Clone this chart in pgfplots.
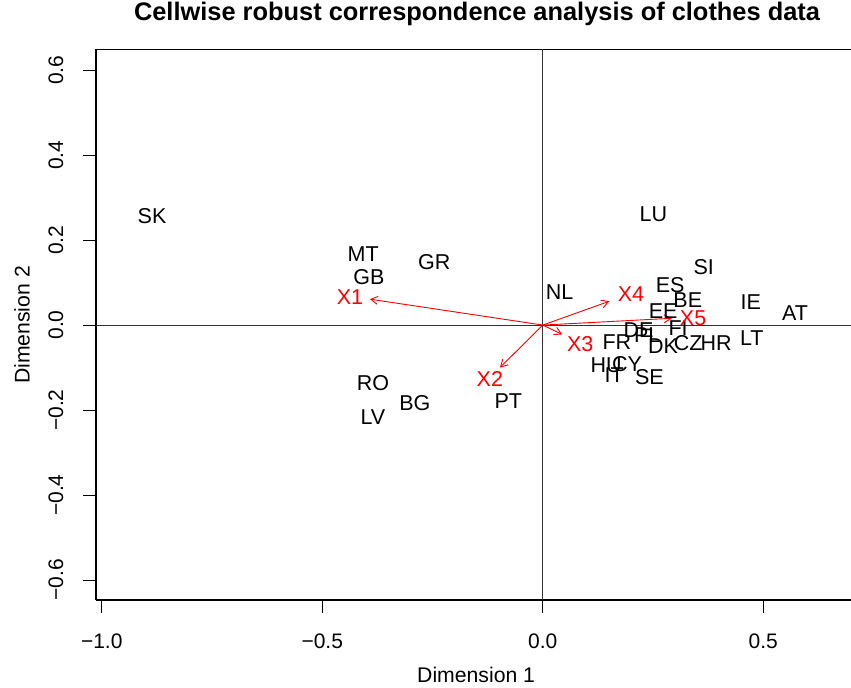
\documentclass[border=0pt]{standalone}
\usepackage{fontspec}
\setmainfont{Liberation Sans}
\usepackage{pgfplots}
\usepackage{pgfplotstable}
\pgfplotsset{compat=1.18}
\usetikzlibrary{arrows.meta,calc}

\pgfplotstableread{
x y lab
-0.886 0.256 SK
-0.407 0.167 MT
-0.394 0.112 GB
-0.246 0.148 GR
0.038 0.077 NL
0.251 0.262 LU
0.365 0.136 SI
0.289 0.094 ES
0.329 0.059 BE
0.472 0.055 IE
0.572 0.028 AT
0.273 0.033 EE
0.307 -0.006 FI
0.217 -0.012 DE
0.237 -0.024 PL
0.273 -0.049 DK
0.330 -0.043 CZ
0.393 -0.042 HR
0.474 -0.031 LT
0.168 -0.039 FR
0.144 -0.094 HU
0.191 -0.092 CY
0.162 -0.118 IT
0.242 -0.122 SE
-0.078 -0.180 PT
-0.385 -0.136 RO
-0.290 -0.184 BG
-0.385 -0.216 LV
}\rows

\pgfplotstableread{
x y lab
-0.437 0.067 X1
-0.120 -0.127 X2
0.085 -0.045 X3
0.200 0.073 X4
0.341 0.016 X5
}\vlabels

\begin{document}
\begin{tikzpicture}
\begin{axis}[
  scale only axis, width=755pt, height=550.7pt,
  xmin=-1.013, xmax=0.699, ymin=-0.647, ymax=0.649,
  axis x line*=bottom, axis y line*=left,
  axis line style={line width=1.3pt, black},
  tick align=outside, major tick length=12.7pt,
  tick style={line width=1pt, black},
  xtick={-1,-0.5,0,0.5}, xticklabels={−1.0,−0.5,0.0,0.5},
  ytick={-0.6,-0.4,-0.2,0,0.2,0.4,0.6},
  yticklabels={−0.6,−0.4,−0.2,0.0,0.2,0.4,0.6},
  ticklabel style={font=\fontsize{21}{25}\selectfont},
  yticklabel style={rotate=90, anchor=south},
  xticklabel style={anchor=north},
  xticklabel shift=18pt, yticklabel shift=16.5pt,
  clip=false,
]
\draw[line width=1.3pt, black] (rel axis cs:0,1) -- (rel axis cs:1,1);
\addplot[black!80, line width=1.1pt] coordinates {(0,-0.647) (0,0.649)};
\addplot[black!80, line width=1.1pt] coordinates {(-1.013,0) (0.699,0)};

\addplot[red, line width=0.9pt, -{Straight Barb[length=7pt,width=8pt]}] coordinates {(0,0) (-0.392,0.061)};
\addplot[red, line width=0.9pt, -{Straight Barb[length=7pt,width=8pt]}] coordinates {(0,0) (-0.097,-0.100)};
\addplot[red, line width=0.9pt, -{Straight Barb[length=7pt,width=8pt]}] coordinates {(0,0) (0.044,-0.022)};
\addplot[red, line width=0.9pt, -{Straight Barb[length=7pt,width=8pt]}] coordinates {(0,0) (0.151,0.056)};
\addplot[red, line width=0.9pt, -{Straight Barb[length=7pt,width=8pt]}] coordinates {(0,0) (0.293,0.016)};

\addplot[draw=none, mark=none, nodes near coords, point meta=explicit symbolic,
  nodes near coords style={anchor=center, inner sep=0pt, font=\fontsize{21.5}{25}\selectfont, text=black}]
  table[x=x, y=y, meta=lab] {\rows};
\addplot[draw=none, mark=none, nodes near coords, point meta=explicit symbolic,
  nodes near coords style={anchor=center, inner sep=0pt, font=\fontsize{21.5}{25}\selectfont, text=red}]
  table[x=x, y=y, meta=lab] {\vlabels};

\coordinate (xl) at (axis cs:-0.151,-0.647);
\coordinate (yl) at (axis cs:-1.013,0);
\coordinate (tl) at (axis cs:-0.149,0.649);
\coordinate (bl) at (rel axis cs:0,0);
\coordinate (tr) at (rel axis cs:1,1);
\end{axis}
\node[font=\fontsize{21.2}{25}\selectfont] at ($(xl)+(0,-75pt)$) {Dimension 1};
\node[font=\fontsize{21.2}{25}\selectfont, rotate=90] at ($(yl)+(-74pt,0)$) {Dimension 2};
\node[font=\fontsize{25.4}{30}\selectfont\bfseries] at ($(tl)+(0,35pt)$) {Cellwise robust correspondence analysis of clothes data};
\pgfresetboundingbox
\path[use as bounding box] ($(bl)+(-96pt,-87pt)$) rectangle ($(tr)+(0,49.3pt)$);
\end{tikzpicture}
\end{document}
